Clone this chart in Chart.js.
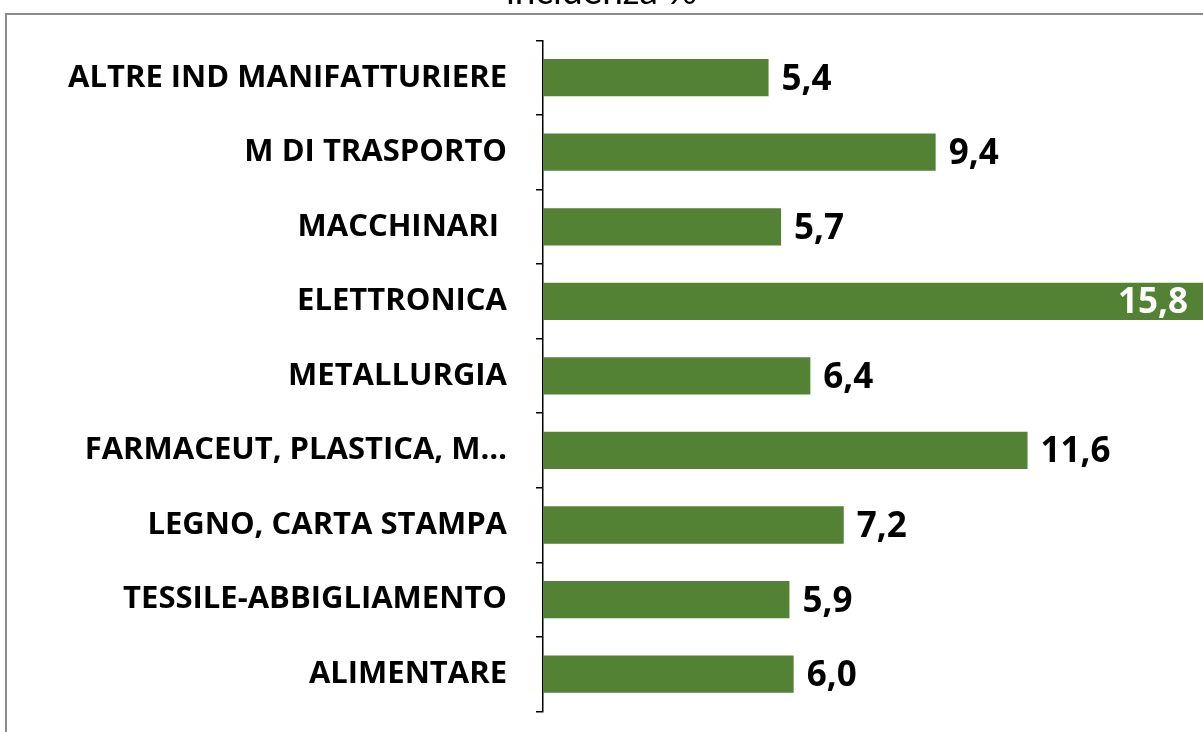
<!DOCTYPE html>
<html>
<head>
<meta charset="utf-8">
<script src="https://cdn.jsdelivr.net/npm/chart.js@4"></script>
<style>
  html, body { margin: 0; padding: 0; background: #fff; overflow: hidden; }
  #wrap { position: absolute; left: 0; top: -30px; width: 1203px; height: 789px; }
</style>
</head>
<body>
<div id="wrap"><canvas id="myChart" width="1203" height="789"></canvas></div>
<script>
// categories and values (incidenza %)
var sectors = [
  'ALTRE IND MANIFATTURIERE',
  'M DI TRASPORTO',
  'MACCHINARI ',
  'ELETTRONICA',
  'METALLURGIA',
  'FARMACEUT, PLASTICA, M…',
  'LEGNO, CARTA STAMPA',
  'TESSILE-ABBIGLIAMENTO',
  'ALIMENTARE'
];
var incidenza = [5.4, 9.4, 5.7, 15.8, 6.4, 11.6, 7.2, 5.9, 6.0];
var titleText = 'incidenza %';

//*******************frame around the plot*******************
var framePlugin = {
  id: 'frame',
  beforeDraw: function (chart) {
    var c = chart.ctx;
    c.save();
    c.strokeStyle = '#8c8c8c';
    c.lineWidth = 2;
    c.strokeRect(6, 44, 1400, 900);
    c.restore();
  }
};

//*******************value labels*******************
var valueLabels = {
  id: 'valueLabels',
  afterDatasetsDraw: function (chart) {
    var c = chart.ctx;
    var meta = chart.getDatasetMeta(0);
    c.save();
    c.font = 'bold 35px "Open Sans"';
    c.textBaseline = 'middle';
    meta.data.forEach(function (bar, i) {
      var txt = incidenza[i].toFixed(1).replace('.', ',');
      if (bar.x + 80 > chart.chartArea.right) {
        c.fillStyle = '#ffffff';
        c.textAlign = 'right';
        c.fillText(txt, bar.x - 15, bar.y + 2);
      } else {
        c.fillStyle = '#000000';
        c.textAlign = 'left';
        c.fillText(txt, bar.x + 13, bar.y + 2);
      }
    });
    c.restore();
  }
};

var ctx = document.getElementById('myChart').getContext('2d');
var chart = new Chart(ctx, {
  type: 'bar',
  data: {
    labels: sectors,
    datasets: [{
      label: 'incidenza',
      data: incidenza,
      backgroundColor: '#548235',
      barPercentage: 0.5,
      categoryPercentage: 1
    }]
  },
  options: {
    indexAxis: 'y',
    responsive: false,
    animation: false,
    layout: { padding: { left: 0, right: 0, top: 0, bottom: 20 } },
    plugins: {
      legend: { display: false },
      tooltip: { enabled: false },
      title: {
        display: true,
        text: titleText,
        color: '#000',
        font: { family: 'Lato', size: 37, weight: 'normal' },
        padding: { top: 0, bottom: 26 }
      }
    },
    scales: {
      x: {
        display: false,
        min: 0,
        max: 15.8
      },
      y: {
        afterFit: function (scale) { scale.width = 543; },
        border: { display: true, color: '#000', width: 1.5 },
        grid: {
          display: true,
          drawOnChartArea: false,
          drawTicks: true,
          tickLength: 7,
          color: '#000',
          lineWidth: 1.5
        },
        ticks: {
          color: '#000',
          padding: 29,
          autoSkip: false,
          font: { family: 'Open Sans', size: 31, weight: 'bold' }
        }
      }
    }
  },
  plugins: [framePlugin, valueLabels]
});
</script>
</body>
</html>
